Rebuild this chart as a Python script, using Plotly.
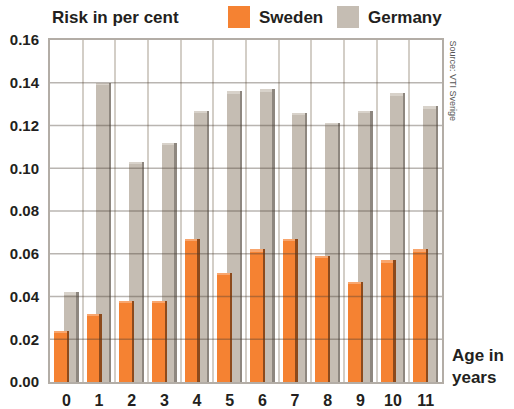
import plotly.graph_objects as go

ages = ["0", "1", "2", "3", "4", "5", "6", "7", "8", "9", "10", "11"]
sweden = [0.024, 0.032, 0.038, 0.038, 0.067, 0.051, 0.062, 0.067, 0.059, 0.047, 0.057, 0.062]
germany = [0.042, 0.140, 0.103, 0.112, 0.127, 0.136, 0.137, 0.126, 0.121, 0.127, 0.135, 0.129]
yticks = [0.00, 0.02, 0.04, 0.06, 0.08, 0.10, 0.12, 0.14, 0.16]

ORANGE = "#F58232"
ORANGE_DARK = "#8C4A1C"
ORANGE_LIGHT = "#F8A66E"
GREY = "#C5BDB3"
GREY_DARK = "#8E877F"
GREY_LIGHT = "#D8D2CA"
FONT = "Liberation Sans"

W = 0.46
CAP = 0.0009


def add_bar3d(values, name, offset, col, dark, light):
    fig.add_bar(x=ages, y=values, name=name, marker=dict(color=col, line=dict(width=0)),
                width=W, offset=offset, showlegend=False)
    fig.add_bar(x=ages, y=values, marker=dict(color=dark, line=dict(width=0)),
                width=0.07, offset=offset + W - 0.07, showlegend=False, hoverinfo="skip")
    fig.add_bar(x=ages, y=[CAP] * len(values), base=[v - CAP for v in values],
                marker=dict(color=light, line=dict(width=0)),
                width=W - 0.07, offset=offset, showlegend=False, hoverinfo="skip")


fig = go.Figure()
add_bar3d(germany, "Germany", -0.08, GREY, GREY_DARK, GREY_LIGHT)
add_bar3d(sweden, "Sweden", -0.38, ORANGE, ORANGE_DARK, ORANGE_LIGHT)

# horizontal gridlines drawn over the bars
for v in yticks[1:-1]:
    fig.add_shape(type="line", xref="paper", yref="y", x0=0, x1=1, y0=v, y1=v,
                  line=dict(color="rgba(70,60,50,0.38)", width=1.5), layer="above")

fig.update_layout(
    width=514, height=409,
    margin=dict(l=50, r=72, t=40, b=27),
    paper_bgcolor="white", plot_bgcolor="white",
    barmode="overlay", bargap=0,
    font=dict(family=FONT, color="#231f20"),
    showlegend=False,
)
fig.update_xaxes(
    type="category", range=[-0.5, 11.5], tickson="boundaries", automargin=False,
    showgrid=True, gridcolor="#d3cec7", gridwidth=2,
    showline=True, linecolor="#b3ada6", linewidth=2, mirror=True,
    ticks="", ticklabelstandoff=3,
    tickfont=dict(size=16, weight="bold", family=FONT, color="#231f20"),
)
fig.update_yaxes(
    range=[0, 0.16], tickvals=yticks, ticktext=[f"{v:.2f}" for v in yticks],
    showgrid=False, zeroline=False, automargin=False,
    showline=True, linecolor="#b3ada6", linewidth=2, mirror=True,
    ticks="", ticklabelstandoff=6,
    tickfont=dict(size=15, weight="bold", family=FONT, color="#231f20"),
)

ann = [
    dict(text="Risk in per cent", x=50, y=17, size=17),
    dict(text="Sweden", x=257, y=17, size=17),
    dict(text="Germany", x=366, y=17, size=17),
]
for a in ann:
    fig.add_annotation(text=a["text"], xref="paper", yref="paper",
                       x=(a["x"] - 50) / 392, y=1 + (40 - a["y"]) / 342,
                       xanchor="left", yanchor="middle", showarrow=False,
                       font=dict(size=a["size"], weight="bold", family=FONT, color="#231f20"))
# legend swatches
for x0, col in [(228, ORANGE), (337, GREY)]:
    fig.add_shape(type="rect", xref="paper", yref="paper",
                  x0=(x0 - 50) / 392, x1=(x0 + 22 - 50) / 392,
                  y0=1 + (40 - 28) / 342, y1=1 + (40 - 6) / 342,
                  fillcolor=col, line=dict(width=0))

fig.add_annotation(text="Age in<br>years", xref="paper", yref="paper",
                   x=(450 - 50) / 392, y=(382 - 366) / 342, xanchor="left", yanchor="middle",
                   align="left", showarrow=False,
                   font=dict(size=17, weight="bold", family=FONT, color="#231f20"))
fig.add_annotation(text="Source: VTI Sverige", xref="paper", yref="paper",
                   x=(453 - 50) / 392, y=1 + (40 - 38) / 342, xanchor="center", yanchor="top",
                   textangle=90, showarrow=False,
                   font=dict(size=9, family=FONT, color="#555"))

fig.write_html("out.html")
